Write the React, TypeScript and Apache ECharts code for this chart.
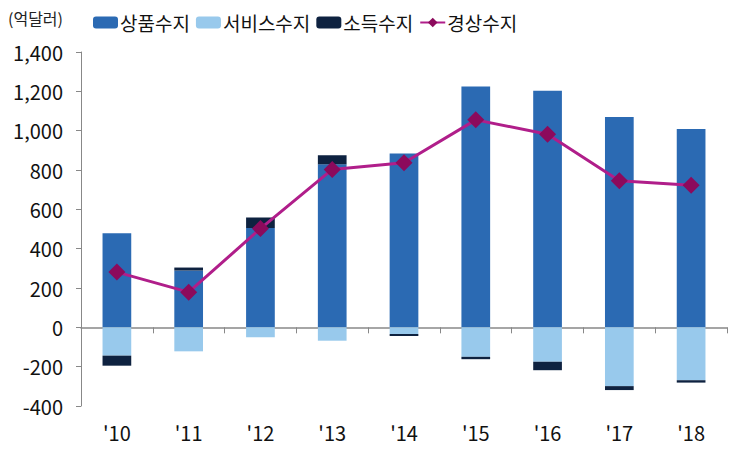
import React, { useEffect, useRef } from "react";
import * as echarts from "echarts";

const categories = ["'10", "'11", "'12", "'13", "'14", "'15", "'16", "'17", "'18"];
const goods = [478, 289, 505, 829, 884, 1225, 1203, 1070, 1009];
const services = [-144, -122, -51, -68, -34, -150, -175, -299, -269];
const income = [-51, 15, 53, 46, -10, -12, -43, -20, -12];
const current = [281, 179, 502, 803, 837, 1055, 982, 745, 723];
const seriesNames = ["상품수지", "서비스수지", "소득수지", "경상수지"];
const unitLabel = "(억달러)";

const FONT = "'Noto Sans CJK KR', 'Noto Sans', sans-serif";

export default function App() {
  const ref = useRef<HTMLDivElement>(null);
  useEffect(() => {
    document.body.style.margin = "0";
    if (!ref.current) return;
    const chart = echarts.init(ref.current, undefined, { renderer: "svg" });
    chart.setOption({
      animation: false,
      backgroundColor: "#ffffff",
      textStyle: { fontFamily: FONT },
      graphic: [
        {
          type: "text",
          left: 8,
          top: 10,
          style: { text: unitLabel, fontSize: 16, fill: "#222", fontFamily: FONT },
        },
      ],
      legend: {
        left: 88,
        top: 8,
        itemWidth: 25,
        itemHeight: 12,
        itemGap: 6,
        textStyle: { fontSize: 19, color: "#111", fontFamily: FONT, padding: [0, 0, 0, -3] },
        data: seriesNames,
      },
      grid: { left: 81, right: 9, top: 52, bottom: 43, containLabel: false },
      xAxis: [
        {
          type: "category",
          data: categories,
          position: "bottom",
          axisLine: { show: false, onZero: false },
          axisTick: { show: false },
          axisLabel: { fontSize: 20, color: "#111", margin: 16, fontFamily: FONT },
        },
        {
          type: "category",
          data: categories,
          position: "bottom",
          axisLine: { show: true, onZero: true, lineStyle: { color: "#888", width: 1.5 } },
          axisTick: { show: true, length: 6, lineStyle: { color: "#888" } },
          axisLabel: { show: false },
        },
      ],
      yAxis: {
        type: "value",
        min: -400,
        max: 1400,
        interval: 200,
        axisLine: { show: true, lineStyle: { color: "#888" } },
        axisTick: { show: true, length: 5, lineStyle: { color: "#888" } },
        splitLine: { show: false },
        axisLabel: {
          fontSize: 20,
          color: "#111",
          margin: 18,
          fontFamily: FONT,
          formatter: (v: number) => v.toLocaleString("en-US"),
        },
      },
      series: [
        {
          name: seriesNames[0],
          type: "bar",
          stack: "total",
          data: goods,
          barWidth: "40%",
          itemStyle: { color: "#2B6AB3" },
        },
        {
          name: seriesNames[1],
          type: "bar",
          stack: "total",
          data: services,
          barWidth: "40%",
          itemStyle: { color: "#98C9EC" },
        },
        {
          name: seriesNames[2],
          type: "bar",
          stack: "total",
          data: income,
          barWidth: "40%",
          itemStyle: { color: "#0E2240" },
        },
        {
          name: seriesNames[3],
          type: "line",
          data: current,
          symbol: "diamond",
          symbolSize: 17,
          lineStyle: { color: "#B01E8A", width: 3 },
          itemStyle: { color: "#8C0A5C" },
          z: 5,
        },
      ],
    });
    return () => chart.dispose();
  }, []);
  return <div ref={ref} style={{ width: 736, height: 449 }} />;
}
